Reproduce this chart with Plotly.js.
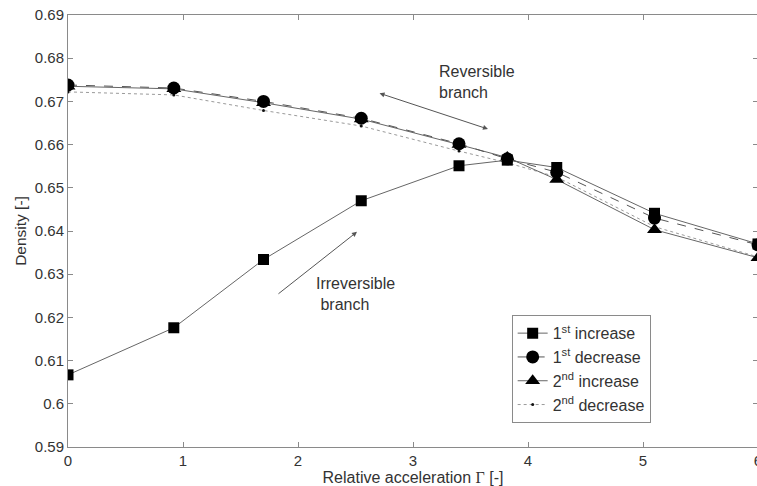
<!DOCTYPE html>
<html>
<head>
<meta charset="utf-8">
<script src="https://cdn.plot.ly/plotly-3.0.1.min.js"></script>
<style>
html,body{margin:0;padding:0;overflow:hidden;background:#fff;}
#chart{width:760px;height:486px;}
</style>
</head>
<body>
<div id="chart"></div>
<script>
// Relative acceleration levels
const accel = [0, 0.92, 1.7, 2.55, 3.4, 3.82, 4.25, 5.1, 6];
// Density values per run
const inc1 = [0.6067, 0.6176, 0.6334, 0.6470, 0.6551, 0.6564, 0.6547, 0.6441, 0.6370];
const dec1 = [0.6738, 0.6731, 0.6700, 0.6661, 0.6602, 0.6567, 0.6536, 0.6430, 0.6368];
const inc2 = [0.6735, 0.6729, 0.6697, 0.6659, 0.6600, 0.6570, 0.6519, 0.6403, 0.6338];
const dec2 = [0.6722, 0.6715, 0.6679, 0.6643, 0.6585, 0.6558, 0.6525, 0.6410, 0.6340];
const seriesNames = ['1<sup>st</sup> increase', '1<sup>st</sup> decrease', '2<sup>nd</sup> increase', '2<sup>nd</sup> decrease'];
const yTicks = [0.59, 0.60, 0.61, 0.62, 0.63, 0.64, 0.65, 0.66, 0.67, 0.68, 0.69];
const yTickText = ['0.59', '0.6', '0.61', '0.62', '0.63', '0.64', '0.65', '0.66', '0.67', '0.68', '0.69'];
const xTicks = [0, 1, 2, 3, 4, 5, 6];

const FONT = 'Liberation Sans, Arial, sans-serif';

const traces = [
  {x: accel, y: dec2, name: seriesNames[3], mode: 'lines+markers',
   line: {color: '#9a9a9a', width: 1, dash: 'dot'},
   marker: {symbol: 'circle', size: 3, color: '#111'}},
  {x: accel, y: inc2, name: seriesNames[2], mode: 'lines+markers',
   line: {color: '#666', width: 1},
   marker: {symbol: 'triangle-up', size: 13, color: '#000'}},
  {x: accel, y: dec1, name: seriesNames[1], mode: 'lines+markers',
   line: {color: '#555', width: 1, dash: 'dash'},
   marker: {symbol: 'circle', size: 13, color: '#000'}},
  {x: accel, y: inc1, name: seriesNames[0], mode: 'lines+markers',
   line: {color: '#666', width: 1},
   marker: {symbol: 'square', size: 11, color: '#000'}}
];

const axisCommon = {
  showgrid: false, zeroline: false, showline: true, linecolor: '#8a8a8a', linewidth: 1,
  mirror: 'ticks', ticks: 'inside', ticklen: 5, tickcolor: '#8a8a8a',
  ticklabeloverflow: 'allow',
  tickfont: {family: FONT, size: 15, color: '#333'}
};

const layout = {
  width: 760, height: 486,
  margin: {l: 68, r: 2, t: 15, b: 39},
  paper_bgcolor: '#fff', plot_bgcolor: '#fff',
  font: {family: FONT, size: 15, color: '#333'},
  showlegend: true,
  legend: {
    x: 0.643, y: 0.305, xanchor: 'left', yanchor: 'top',
    bgcolor: '#fff', bordercolor: '#8a8a8a', borderwidth: 1,
    traceorder: 'reversed', tracegroupgap: 0, itemwidth: 30,
    font: {family: FONT, size: 16, color: '#333'}
  },
  xaxis: Object.assign({}, axisCommon, {
    range: [0, 6], tickvals: xTicks, ticktext: xTicks.map(String),
    title: {text: 'Relative acceleration <span style="font-family:Liberation Serif">Γ</span> [-]', standoff: 2,
            font: {family: FONT, size: 16, color: '#333'}}
  }),
  yaxis: Object.assign({}, axisCommon, {
    range: [0.59, 0.69], tickvals: yTicks, ticktext: yTickText,
    title: {text: 'Density [-]', standoff: 4,
            font: {family: FONT, size: 15.5, color: '#333'}}
  }),
  annotations: [
    {x: 3.205, y: 0.6793, xref: 'x', yref: 'y', xanchor: 'left', yanchor: 'top',
     text: 'Reversible<br>branch', showarrow: false, align: 'left',
     font: {family: FONT, size: 16, color: '#333'}},
    {x: 2.135, y: 0.6302, xref: 'x', yref: 'y', xanchor: 'left', yanchor: 'top',
     text: 'Irreversible<br>&nbsp;branch', showarrow: false, align: 'left',
     font: {family: FONT, size: 16, color: '#333'}},
    {x: 3.652, y: 0.6636, ax: 2.696, ay: 0.6720, xref: 'x', yref: 'y', axref: 'x', ayref: 'y',
     text: '', showarrow: true, arrowhead: 2, startarrowhead: 2, arrowside: 'end+start',
     arrowsize: 1, startarrowsize: 1, arrowwidth: 1, arrowcolor: '#555'},
    {x: 2.513, y: 0.6398, ax: 1.817, ay: 0.6252, xref: 'x', yref: 'y', axref: 'x', ayref: 'y',
     text: '', showarrow: true, arrowhead: 2, arrowsize: 1, arrowwidth: 1, arrowcolor: '#555'}
  ]
};

Plotly.newPlot('chart', traces, layout, {displayModeBar: false, staticPlot: true});
</script>
</body>
</html>
